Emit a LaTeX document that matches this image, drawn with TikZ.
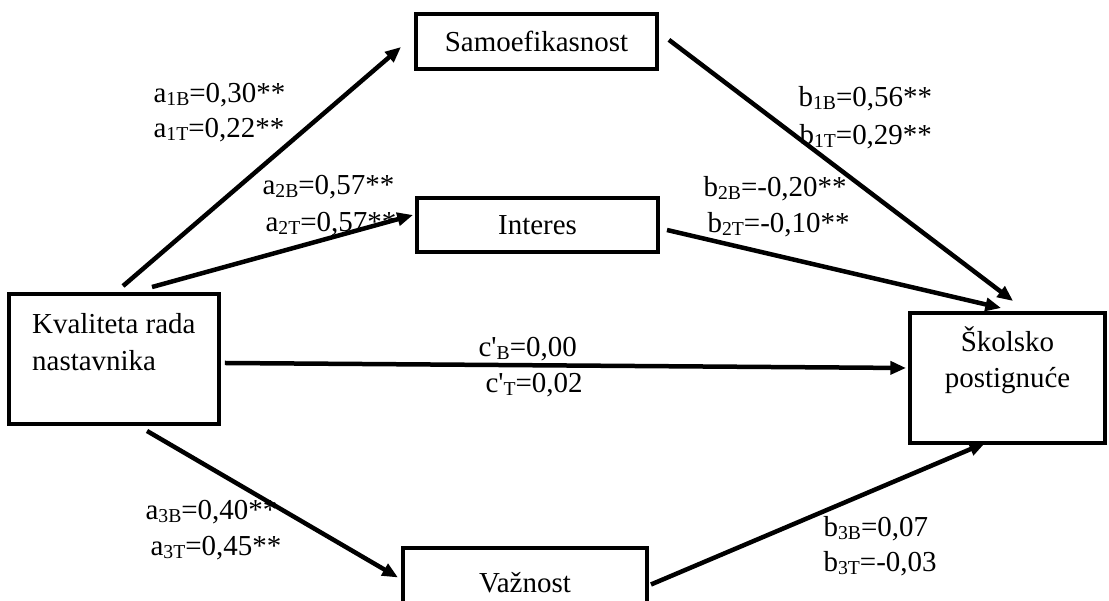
\documentclass[tikz,border=0pt]{standalone}
\usepackage{fontspec}
\setmainfont{Liberation Serif}
\usetikzlibrary{arrows.meta}
\newcommand{\ix}[1]{\raisebox{-0.2ex}{\fontsize{7}{8}\selectfont #1}}

\begin{document}
\begin{tikzpicture}[
    font=\fontsize{10.3}{13}\selectfont,
    var/.style={draw, line width=1.4pt, inner sep=0pt, align=center},
    effect/.style={line width=1.6pt, -{Triangle[length=5.6pt, width=4.6pt]}},
    coef/.style={anchor=base west, inner sep=0pt}
]
\useasboundingbox[fill=white] (0,0) rectangle (13.8625,7.5125);

% ============================
% Variables
% ============================
\node[var, minimum width=2.625cm, minimum height=1.625cm] (kval) at (1.425,3.025)
    {\parbox[c][1.625cm][t]{2.625cm}{\leftskip=0.29cm\vspace*{6.9pt}Kvaliteta rada\\nastavnika}};
\node[var, minimum width=3.0125cm, minimum height=0.6875cm] (samo) at (6.706,6.994) {Samoefikasnost};
\node[var, minimum width=3.0125cm, minimum height=0.675cm]  (inter) at (6.719,4.7) {Interes};
\node[var, minimum width=3.05cm, minimum height=0.8625cm]   (vaz) at (6.5625,0.23125) {Važnost};
\node[var, minimum width=2.4375cm, minimum height=1.625cm] (skol) at (12.594,2.7875)
    {\parbox[c][1.625cm][t]{2.4375cm}{\centering\vspace*{4.8pt}Školsko\\postignuće}};

% ============================
% Paths
% ============================
\draw[effect] ([xshift=0.1125cm, yshift=0.075cm]kval.north) -- ([xshift=-0.1625cm, yshift=-0.069cm]samo.west);
\draw[effect] ([xshift=0.475cm, yshift=0.0625cm]kval.north) -- ([xshift=-0.025cm, yshift=0.125cm]inter.west);
\draw[effect] ([xshift=0.05cm, yshift=-0.05cm]kval.east) -- ([xshift=-0.025cm, yshift=0.125cm]skol.west);
\draw[effect] ([xshift=0.4125cm, yshift=-0.0625cm]kval.south) -- ([xshift=-0.0375cm, yshift=0.0625cm]vaz.west);
\draw[effect] ([xshift=0.125cm, yshift=0.02cm]samo.east) -- ([xshift=0.07cm, yshift=0.125cm]skol.north);
\draw[effect] ([xshift=0.0875cm, yshift=-0.0625cm]inter.east) -- ([xshift=-0.08cm, yshift=0.0375cm]skol.north);
\draw[effect] ([xshift=0.025cm, yshift=-0.025cm]vaz.east) -- ([xshift=-0.28cm, yshift=0.025cm]skol.south);

% ============================
% Coefficients
% ============================
\node[coef] (a1b) at (1.9125,6.225)  {a\ix{1B}=0,30**};
\node[coef] (a1t) at (1.9125,5.7875) {a\ix{1T}=0,22**};
\node[coef] (a2b) at (3.275,5.075)   {a\ix{2B}=0,57**};
\node[coef] (a2t) at (3.3125,4.6125) {a\ix{2T}=0,57**};
\node[coef] (b1b) at (9.975,6.175)   {b\ix{1B}=0,56**};
\node[coef] (b1t) at (9.9875,5.7)    {b\ix{1T}=0,29**};
\node[coef] (b2b) at (8.7875,5.05)   {b\ix{2B}=-0,20**};
\node[coef] (b2t) at (8.8375,4.6)    {b\ix{2T}=-0,10**};
\node[coef] (cb)  at (5.975,3.05)    {c\textquotesingle\ix{B}=0,00};
\node[coef] (ct)  at (6.0625,2.6)    {c\textquotesingle\ix{T}=0,02};
\node[coef] (a3b) at (1.8125,1.0125) {a\ix{3B}=0,40**};
\node[coef] (a3t) at (1.875,0.5625)  {a\ix{3T}=0,45**};
\node[coef] (b3b) at (10.2875,0.8)   {b\ix{3B}=0,07};
\node[coef] (b3t) at (10.2875,0.3625) {b\ix{3T}=-0,03};

\end{tikzpicture}
\end{document}
